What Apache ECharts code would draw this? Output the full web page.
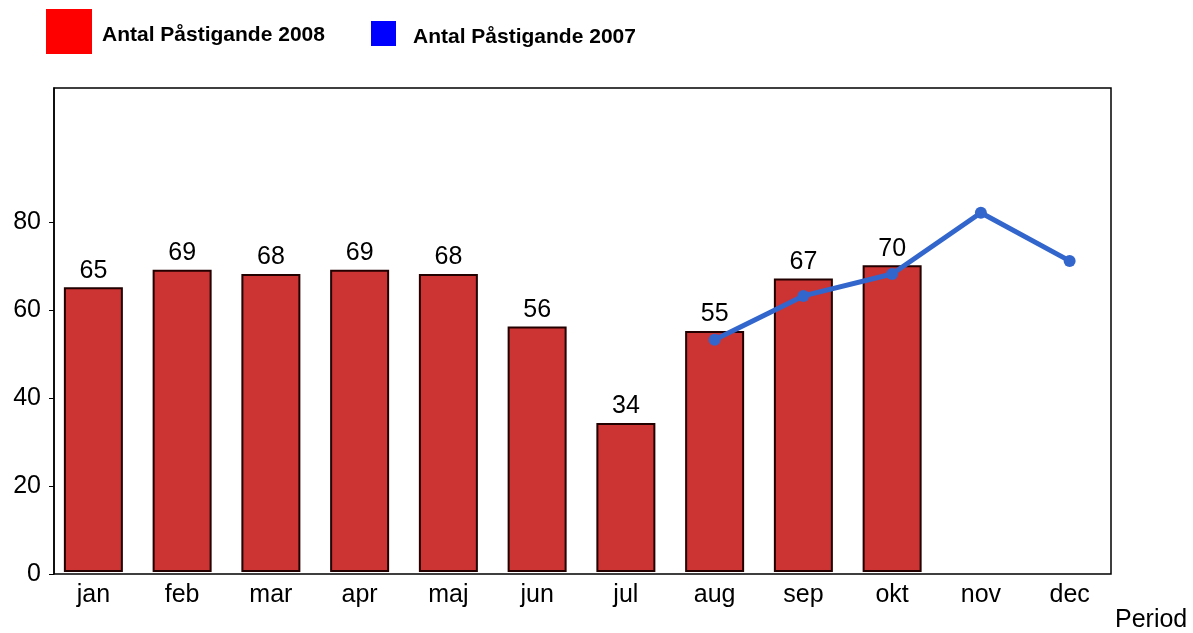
<!DOCTYPE html>
<html>
<head>
<meta charset="utf-8">
<script src="https://cdn.jsdelivr.net/npm/echarts@6/dist/echarts.min.js"></script>
<style>
  html, body { margin: 0; padding: 0; background: #fff; }
  #chart { width: 1193px; height: 633px; }
</style>
</head>
<body>
<div id="chart"></div>
<script>
// månader
const months = ['jan', 'feb', 'mar', 'apr', 'maj', 'jun', 'jul', 'aug', 'sep', 'okt', 'nov', 'dec']
// påstigande 2008 (staplar)
const pastigande2008 = [65, 69, 68, 69, 68, 56, 34, 55, 67, 70, null, null]
// påstigande 2007 (linje)
const pastigande2007 = [null, null, null, null, null, null, null, 53, 63, 68, 82, 71]
const yTicks = [0, 20, 40, 60, 80]

const font = 'Liberation Sans, Arial, sans-serif'
const myChart = echarts.init(document.getElementById('chart'), null, { renderer: 'canvas' })

// legendtext lite längre ned, som i originalet
const legendText = (padLeft) => ({
  fontSize: 21,
  fontWeight: 'bold',
  color: '#000',
  fontFamily: font,
  rich: {
    t: { fontSize: 21, fontWeight: 'bold', color: '#000', fontFamily: font, padding: [7, 0, 0, padLeft] }
  }
})

const option = {
  animation: false,
  textStyle: { fontFamily: font },
  legend: [
    {
      left: 41,
      top: 4,
      itemWidth: 46,
      itemHeight: 45,
      icon: 'rect',
      formatter: '{t|{name}}',
      textStyle: legendText(5),
      data: [{ name: 'Antal Påstigande 2008', itemStyle: { color: '#ff0000', borderWidth: 0 } }]
    },
    {
      left: 366,
      top: 16,
      itemWidth: 25,
      itemHeight: 25,
      icon: 'rect',
      formatter: '{t|{name}}',
      textStyle: legendText(12),
      data: [{ name: 'Antal Påstigande 2007', itemStyle: { color: '#0000ff', borderWidth: 0 } }]
    }
  ],
  grid: [
    // dataområde
    { left: 49, right: 79, top: 90, bottom: 59, show: false },
    // ram
    { left: 54, right: 82, top: 88, bottom: 59, show: true, borderColor: '#000', borderWidth: 1.5 }
  ],
  xAxis: [
    {
      type: 'category',
      gridIndex: 0,
      data: months,
      name: 'Period',
      nameLocation: 'end',
      nameGap: 1,
      nameTextStyle: { fontSize: 25, color: '#000', verticalAlign: 'top', padding: [36, 0, 0, 0] },
      axisLine: { show: false },
      axisTick: { show: false },
      axisLabel: { fontSize: 25, color: '#000', margin: 11 }
    },
    {
      type: 'value',
      gridIndex: 1,
      show: false
    }
  ],
  yAxis: [
    {
      type: 'value',
      gridIndex: 0,
      min: 0,
      max: 110,
      show: false
    },
    {
      type: 'value',
      gridIndex: 1,
      min: 0,
      max: 110.5,
      interval: 20,
      splitLine: { show: false },
      axisLine: { show: true, lineStyle: { color: '#000', width: 1.5 } },
      axisTick: { show: true, length: 5, customValues: yTicks, lineStyle: { color: '#000' } },
      axisLabel: { fontSize: 25, color: '#000', margin: 13, customValues: yTicks }
    }
  ],
  series: [
    {
      name: 'Antal Påstigande 2008',
      type: 'bar',
      data: pastigande2008,
      barWidth: 59,
      itemStyle: { color: '#cc3333', borderColor: '#220000', borderWidth: 2 },
      label: { show: true, position: 'top', fontSize: 25, color: '#000', distance: 4 }
    },
    {
      name: 'Antal Påstigande 2007',
      type: 'line',
      data: pastigande2007,
      symbol: 'circle',
      symbolSize: 12,
      lineStyle: { color: '#3366cc', width: 5 },
      itemStyle: { color: '#3366cc' }
    }
  ]
}
myChart.setOption(option)
</script>
</body>
</html>
